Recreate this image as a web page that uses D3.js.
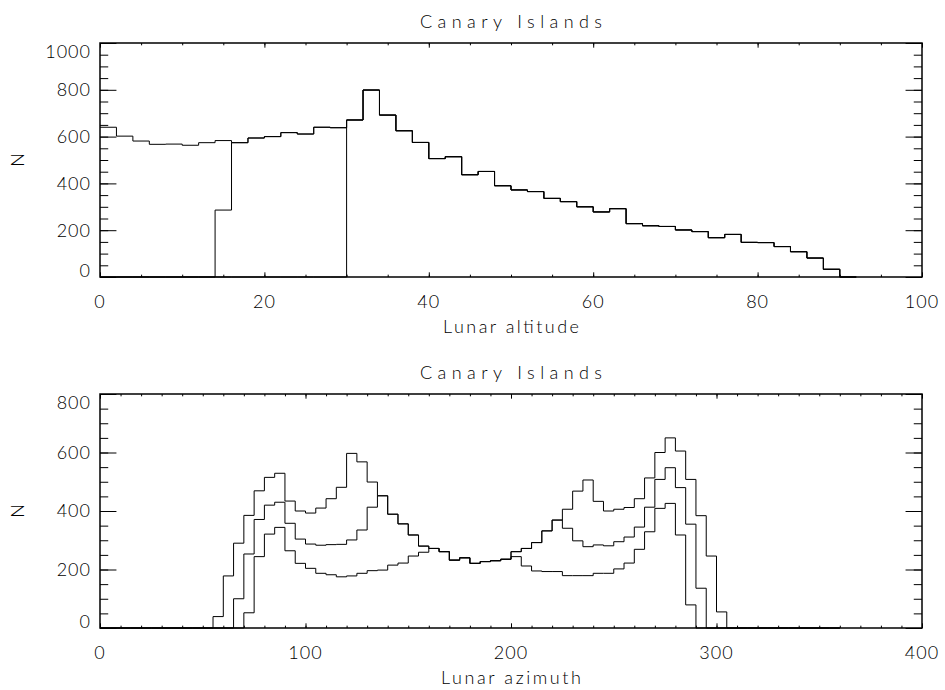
<!DOCTYPE html>
<html>
<head>
<meta charset="utf-8">
<script src="https://cdn.jsdelivr.net/npm/d3@7"></script>
<style>
  body { margin: 0; background: #ffffff; }
  text { font-family: Lato, "DejaVu Sans", sans-serif; font-weight: 300; fill: #000000; font-size: 18px; }
</style>
</head>
<body>
<div id="mydiv"></div>
<script>
const width = 945,
  height = 690;

// Top panel: lunar altitude histograms (bins of 2 deg)
const altBinWidth = 2;
const altAll = [640, 602, 581, 567, 568, 563, 574, 583, 574, 594, 600, 617, 611, 640, 638, 671, 799, 692, 625, 575, 506, 514, 437, 451, 390, 372, 365, 336, 322, 300, 278, 292, 228, 219, 216, 201, 194, 168, 182, 148, 147, 130, 108, 81, 33, 0];
const altAbove14 = [0, 0, 0, 0, 0, 0, 0, 286, 574, 594, 600, 617, 611, 640, 638, 671, 799, 692, 625, 575, 506, 514, 437, 451, 390, 372, 365, 336, 322, 300, 278, 292, 228, 219, 216, 201, 194, 168, 182, 148, 147, 130, 108, 81, 33, 0];
const altAbove30 = [0, 0, 0, 0, 0, 0, 0, 0, 0, 0, 0, 0, 0, 0, 0, 671, 799, 692, 625, 575, 506, 514, 437, 451, 390, 372, 365, 336, 322, 300, 278, 292, 228, 219, 216, 201, 194, 168, 182, 148, 147, 130, 108, 81, 33, 0];

// Bottom panel: lunar azimuth histograms (bins of 5 deg)
const azBinWidth = 5;
const azOuter = [0, 0, 0, 0, 0, 0, 0, 0, 0, 0, 0,
  39, 178, 290, 385, 469, 515, 529, 434, 400, 393, 410, 442, 481, 597, 568, 499,
  452, 389, 356, 318, 280, 272, 261, 232, 240, 221, 227, 230, 235, 261, 272, 292, 332, 369,
  406, 468, 506, 433, 400, 406, 412, 442, 513, 600, 650, 605, 508, 384, 246, 55,
  0, 0, 0, 0, 0, 0, 0, 0, 0, 0, 0];
const azMiddle = [0, 0, 0, 0, 0, 0, 0, 0, 0, 0, 0, 0, 0,
  100, 253, 371, 420, 430, 358, 304, 287, 283, 285, 286, 301, 335, 413,
  452, 389, 356, 318, 280, 272, 261, 232, 240, 221, 227, 230, 235, 261, 272, 292, 332, 369,
  341, 298, 278, 284, 281, 295, 311, 345, 413, 508, 548, 480, 355, 136,
  0, 0, 0, 0, 0, 0, 0, 0, 0, 0, 0, 0, 0];
const azInner = [0, 0, 0, 0, 0, 0, 0, 0, 0, 0, 0, 0, 0, 0,
  52, 244, 321, 344, 264, 221, 204, 187, 182, 175, 178, 187, 196, 198, 215, 222, 246, 259,
  272, 261, 232, 240, 221, 227, 230, 235,
  244, 212, 195, 193, 193, 179, 179, 179, 187, 187, 202, 222, 269, 329, 409, 426, 318, 79,
  0, 0, 0, 0, 0, 0, 0, 0, 0, 0, 0, 0, 0, 0];

// Tick labels
const altXTicks = [0, 20, 40, 60, 80, 100];
const altYTicks = [0, 200, 400, 600, 800, 1000];
const azXTicks = [0, 100, 200, 300, 400];
const azYTicks = [0, 200, 400, 600, 800];

const titleText = "Canary Islands";

let svg = d3
  .select("#mydiv")
  .append("svg")
  .attr("width", width)
  .attr("height", height);

svg.append("rect").attr("width", width).attr("height", height).attr("fill", "#ffffff");

function drawPanel(cfg) {
  const left = 100,
    right = 922;
  const xScale = d3.scaleLinear().domain(cfg.xDomain).range([left, right]);
  const yScale = d3.scaleLinear().domain(cfg.yDomain).range([cfg.bottom, cfg.top]);

  const xMinor = d3.range(cfg.xDomain[0], cfg.xDomain[1] + 0.001, cfg.xMinorStep);
  const yMinor = d3.range(cfg.yDomain[0], cfg.yDomain[1] + 0.001, cfg.yMinorStep);

  // IDL style ticks: inside, on all four sides
  const yLen = 0.02 * (right - left),
    xLen = 0.02 * (cfg.bottom - cfg.top);

  const axes = [
    [d3.axisLeft(yScale), `translate(${left},0)`, cfg.yTicks, yMinor, yLen],
    [d3.axisRight(yScale), `translate(${right},0)`, cfg.yTicks, yMinor, yLen],
    [d3.axisBottom(xScale), `translate(0,${cfg.bottom})`, cfg.xTicks, xMinor, xLen],
    [d3.axisTop(xScale), `translate(0,${cfg.top})`, cfg.xTicks, xMinor, xLen],
  ];
  axes.forEach((a) => {
    svg
      .append("g")
      .attr("transform", a[1])
      .call(a[0].tickValues(a[3]).tickSize(-a[4] / 2).tickFormat(""))
      .call((g) => g.select(".domain").remove());
    svg
      .append("g")
      .attr("transform", a[1])
      .call(a[0].tickValues(a[2]).tickSize(-a[4]).tickFormat(""))
      .call((g) => g.select(".domain").remove());
  });
  svg.selectAll(".tick line").attr("stroke", "#000").attr("stroke-width", 1);

  // histograms
  const line = d3
    .line()
    .curve(d3.curveStepAfter)
    .x((d) => xScale(d.x))
    .y((d) => yScale(d.y));

  cfg.series.forEach((vals) => {
    const pts = vals.map((v, i) => ({ x: i * cfg.binWidth, y: v }));
    pts.push({ x: vals.length * cfg.binWidth, y: vals[vals.length - 1] });
    svg
      .append("path")
      .attr("d", line(pts))
      .attr("fill", "none")
      .attr("stroke", "#000")
      .attr("stroke-width", 1);
  });

  // frame
  svg
    .append("rect")
    .attr("x", left)
    .attr("y", cfg.top)
    .attr("width", right - left)
    .attr("height", cfg.bottom - cfg.top)
    .attr("fill", "none")
    .attr("stroke", "#000")
    .attr("stroke-width", 1.5);

  // y labels, end labels kept inside the frame
  svg
    .append("g")
    .selectAll("text")
    .data(cfg.yTicks)
    .enter()
    .append("text")
    .attr("x", left - 9)
    .attr("y", (d) => Math.max(cfg.top + 9, Math.min(cfg.bottom - 6, yScale(d))))
    .attr("dy", "0.36em")
    .attr("text-anchor", "end")
    .style("letter-spacing", "1px")
    .text((d) => d);

  // x labels
  svg
    .append("g")
    .selectAll("text")
    .data(cfg.xTicks)
    .enter()
    .append("text")
    .attr("x", (d) => xScale(d))
    .attr("y", cfg.bottom + 31)
    .attr("text-anchor", "middle")
    .style("letter-spacing", "1px")
    .text((d) => d);

  // titles
  svg
    .append("text")
    .attr("x", (left + right) / 2)
    .attr("y", cfg.top - 15)
    .attr("text-anchor", "middle")
    .attr("textLength", 182)
    .attr("lengthAdjust", "spacing")
    .text(titleText);

  svg
    .append("text")
    .attr("x", (left + right) / 2)
    .attr("y", cfg.bottom + 56)
    .attr("text-anchor", "middle")
    .attr("textLength", cfg.xLabelWidth)
    .attr("lengthAdjust", "spacing")
    .text(cfg.xLabel);

  svg
    .append("text")
    .attr("transform", `translate(24,${(cfg.top + cfg.bottom) / 2}) rotate(-90)`)
    .attr("text-anchor", "middle")
    .text("N");
}

drawPanel({
  top: 43,
  bottom: 277,
  xDomain: [0, 100],
  yDomain: [0, 1000],
  xTicks: altXTicks,
  yTicks: altYTicks,
  xMinorStep: 5,
  yMinorStep: 50,
  binWidth: altBinWidth,
  series: [altAll, altAbove14, altAbove30],
  xLabel: "Lunar altitude",
  xLabelWidth: 136,
});

drawPanel({
  top: 394,
  bottom: 628,
  xDomain: [0, 400],
  yDomain: [0, 800],
  xTicks: azXTicks,
  yTicks: azYTicks,
  xMinorStep: 10,
  yMinorStep: 50,
  binWidth: azBinWidth,
  series: [azOuter, azMiddle, azInner],
  xLabel: "Lunar azimuth",
  xLabelWidth: 140,
});
</script>
</body>
</html>
